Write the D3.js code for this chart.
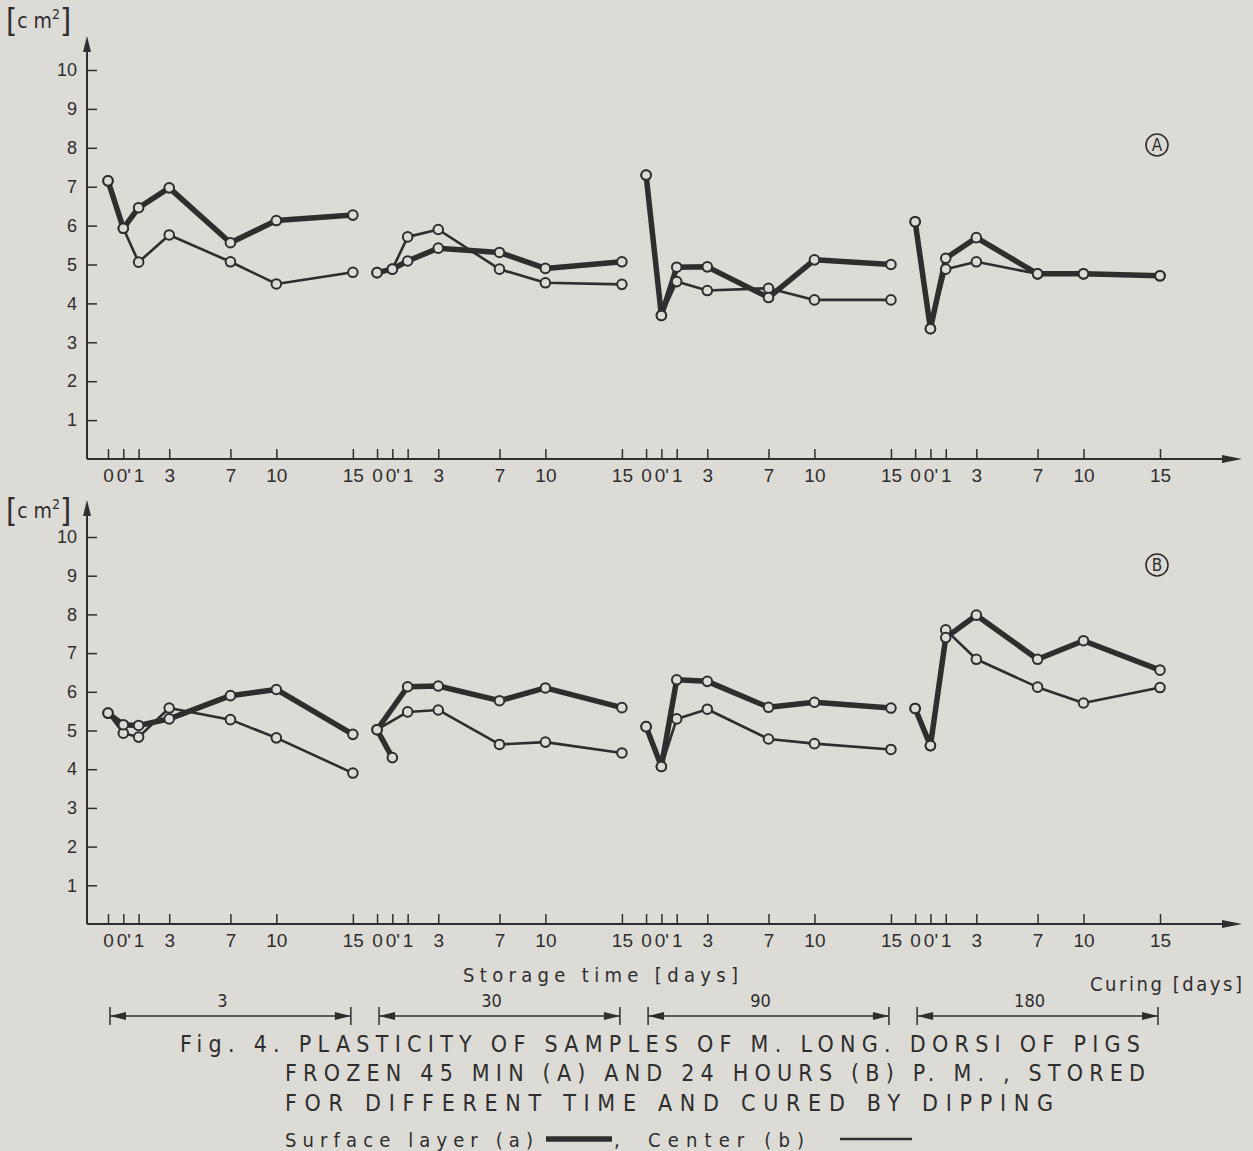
<!DOCTYPE html>
<html>
<head>
<meta charset="utf-8">
<script src="https://cdn.jsdelivr.net/npm/d3@7"></script>
<style>
  body { margin: 0; background: #dcdbd6; }
  svg { display: block; font-family: "DejaVu Sans Condensed", "Liberation Sans Narrow", "DejaVu Sans", sans-serif; font-stretch: condensed; }
</style>
</head>
<body>
<script>
// storage time groups (days frozen) and curing days inside each group
var storageTimes = ["3", "30", "90", "180"];
var dayLabels = ["0", "0'", "1", "3", "7", "10", "15"];
var curingDays = [-1, 0, 1, 3, 7, 10, 15];
var yTicks = [1, 2, 3, 4, 5, 6, 7, 8, 9, 10];

// (A) frozen 45 min p.m.
var surfaceA = [
  [7.15, 5.93, 6.46, 6.97, 5.56, 6.13, 6.27],
  [4.79, 4.88, 5.09, 5.42, 5.31, 4.90, 5.07],
  [7.30, 3.69, 4.93, 4.94, 4.15, 5.12, 5.00],
  [6.10, 3.35, 5.16, 5.69, 4.76, 4.76, 4.71]
];
var centerA = [
  [7.15, 5.93, 5.06, 5.76, 5.07, 4.50, 4.80],
  [4.79, 4.88, 5.71, 5.90, 4.88, 4.53, 4.49],
  [7.30, 3.69, 4.56, 4.33, 4.39, 4.09, 4.09],
  [6.10, 3.35, 4.88, 5.07, 4.76, 4.76, 4.71]
];
// (B) frozen 24 hours p.m.
var surfaceB = [
  [5.45, 5.15, 5.13, 5.30, 5.90, 6.06, 4.90],
  [5.02, 4.30, 6.13, 6.15, 5.77, 6.10, 5.59],
  [5.10, 4.07, 6.31, 6.27, 5.60, 5.73, 5.58],
  [5.57, 4.61, 7.40, 7.98, 6.84, 7.32, 6.56]
];
var centerB = [
  [5.45, 4.93, 4.83, 5.58, 5.28, 4.81, 3.90],
  [5.02, null, 5.48, 5.53, 4.64, 4.70, 4.42],
  [5.10, 4.07, 5.30, 5.55, 4.78, 4.66, 4.51],
  [5.57, 4.61, 7.60, 6.84, 6.12, 5.71, 6.11]
];
// order the points are joined in (B / 30 days: the 0' point hangs off the 0 point)
var normalOrder = [0, 1, 2, 3, 4, 5, 6];
var orderSurfaceB30 = [1, 0, 2, 3, 4, 5, 6];

var svgWidth = 1253;
var svgHeight = 1151;
var ink = "#2e2e2e";
var paper = "#dcdbd6";

var svg = d3.select("body").append("svg")
  .attr("width", svgWidth)
  .attr("height", svgHeight);

// one long linear x scale, each storage group shifted by a fixed span
var groupSpan = 17.58;
var xScale = d3.scaleLinear()
  .domain([-1, 3 * groupSpan + 15])
  .range([108, 1160]);
function xPos(g, i) { return xScale(g * groupSpan + curingDays[i]); }

var tickVals = [];
storageTimes.forEach(function(s, g) {
  curingDays.forEach(function(d) { tickVals.push(g * groupSpan + d); });
});

var axisX = 87;

var panels = [
  { name: "A", surface: surfaceA, center: centerA, y0: 459, y10: 70, top: 36, unitY: 20, letterY: 145 },
  { name: "B", surface: surfaceB, center: centerB, y0: 924, y10: 537, top: 500, unitY: 510, letterY: 565 }
];

panels.forEach(function(p) {
  var yScale = d3.scaleLinear().domain([0, 10]).range([p.y0, p.y10]);
  var g = svg.append("g");

  // y axis
  var yAxis = g.append("g")
    .attr("transform", `translate(${axisX},0)`)
    .call(d3.axisLeft(yScale).tickValues(yTicks).tickSize(-10).tickPadding(10));
  yAxis.select(".domain").remove();
  yAxis.selectAll("line").attr("stroke", ink).attr("stroke-width", 1.5);
  yAxis.selectAll("text").attr("fill", ink).attr("font-size", 18).attr("font-family", null);

  g.append("line")
    .attr("x1", axisX).attr("x2", axisX)
    .attr("y1", p.y0).attr("y2", p.top + 6)
    .attr("stroke", ink).attr("stroke-width", 2);
  g.append("path")
    .attr("d", `M${axisX - 4},${p.top + 16} L${axisX},${p.top} L${axisX + 4},${p.top + 16} Z`)
    .attr("fill", ink);

  // unit label
  var unit = g.append("text")
    .attr("x", 6).attr("y", p.unitY + 8)
    .attr("fill", ink).attr("font-size", 21);
  unit.append("tspan").attr("font-size", 32).attr("dy", 3).text("[");
  unit.append("tspan").attr("dy", -3).text("c m");
  unit.append("tspan").attr("font-size", 14).attr("dy", -9).text("2");
  unit.append("tspan").attr("font-size", 32).attr("dy", 12).text("]");

  // x axis
  var xAxis = g.append("g")
    .attr("transform", `translate(0,${p.y0})`)
    .call(d3.axisBottom(xScale).tickValues(tickVals).tickSize(-10).tickPadding(10)
      .tickFormat(function(d, i) { return dayLabels[i % dayLabels.length]; }));
  xAxis.select(".domain").remove();
  xAxis.selectAll("line").attr("stroke", ink).attr("stroke-width", 1.5);
  xAxis.selectAll("text").attr("fill", ink).attr("font-size", 19).attr("font-family", null);

  g.append("line")
    .attr("x1", axisX).attr("x2", 1232)
    .attr("y1", p.y0).attr("y2", p.y0)
    .attr("stroke", ink).attr("stroke-width", 2);
  g.append("path")
    .attr("d", `M1222,${p.y0 - 4} L1242,${p.y0} L1222,${p.y0 + 4} Z`)
    .attr("fill", ink);

  // circled panel letter
  g.append("circle").attr("cx", 1157).attr("cy", p.letterY).attr("r", 11)
    .attr("fill", "none").attr("stroke", ink).attr("stroke-width", 1.6);
  g.append("text").attr("x", 1157).attr("y", p.letterY + 6)
    .attr("text-anchor", "middle").attr("font-size", 17).attr("fill", ink)
    .text(p.name);

  var line = d3.line().x(d => d.x).y(d => d.y);

  function pts(values, gi, order) {
    return order.filter(i => values[i] !== null)
      .map(i => ({ x: xPos(gi, i), y: yScale(values[i]) }));
  }

  storageTimes.forEach(function(s, gi) {
    var sOrder = (p.name === "B" && gi === 1) ? orderSurfaceB30 : normalOrder;
    var sp = pts(p.surface[gi], gi, sOrder);
    var cp = pts(p.center[gi], gi, normalOrder);

    g.append("path").attr("d", line(cp))
      .attr("fill", "none").attr("stroke", ink).attr("stroke-width", 2.6)
      .attr("stroke-linejoin", "round").attr("stroke-linecap", "round");
    g.append("path").attr("d", line(sp))
      .attr("fill", "none").attr("stroke", ink).attr("stroke-width", 5.5)
      .attr("stroke-linejoin", "round").attr("stroke-linecap", "round");

    g.selectAll(null).data(cp.concat(sp)).enter().append("circle")
      .attr("cx", d => d.x).attr("cy", d => d.y).attr("r", 4.8)
      .attr("fill", paper).attr("stroke", ink).attr("stroke-width", 2);
  });
});

// storage / curing labels
svg.append("text").attr("x", 463).attr("y", 982)
  .attr("font-size", 20).attr("fill", ink)
  .attr("textLength", 275).attr("lengthAdjust", "spacing")
  .text("Storage  time  [days]");
svg.append("text").attr("x", 1090).attr("y", 991)
  .attr("font-size", 20).attr("fill", ink)
  .attr("textLength", 152).attr("lengthAdjust", "spacing")
  .text("Curing  [days]");

// storage time span arrows
storageTimes.forEach(function(s, gi) {
  var x1 = xPos(gi, 0) + 2;
  var x2 = xPos(gi, 6) - 2;
  var y = 1016;
  svg.append("line").attr("x1", x1).attr("x2", x2).attr("y1", y).attr("y2", y)
    .attr("stroke", ink).attr("stroke-width", 1.5);
  [x1, x2].forEach(function(x, k) {
    svg.append("line").attr("x1", x).attr("x2", x).attr("y1", y - 9).attr("y2", y + 9)
      .attr("stroke", ink).attr("stroke-width", 1.5);
    var dir = k === 0 ? 1 : -1;
    svg.append("path")
      .attr("d", `M${x},${y} L${x + dir * 16},${y - 4} L${x + dir * 16},${y + 4} Z`)
      .attr("fill", ink);
  });
  svg.append("text").attr("x", (x1 + x2) / 2 - 8).attr("y", 1007)
    .attr("text-anchor", "middle").attr("font-size", 18).attr("fill", ink)
    .text(s);
});

// caption
var caption = [
  { text: "Fig. 4.  PLASTICITY  OF  SAMPLES  OF  M. LONG. DORSI  OF  PIGS", x: 180, y: 1052, w: 960 },
  { text: "FROZEN  45 MIN  (A)  AND  24  HOURS  (B)  P. M. , STORED", x: 285, y: 1081, w: 860 },
  { text: "FOR  DIFFERENT  TIME  AND  CURED  BY  DIPPING", x: 285, y: 1111, w: 768 }
];
caption.forEach(function(c) {
  svg.append("text").attr("x", c.x).attr("y", c.y)
    .attr("font-size", 23).attr("fill", ink)
    .attr("textLength", c.w).attr("lengthAdjust", "spacing")
    .text(c.text);
});

// legend
svg.append("text").attr("x", 285).attr("y", 1147).attr("font-size", 20).attr("fill", ink)
  .attr("textLength", 248).attr("lengthAdjust", "spacing").text("Surface  layer  (a)");
svg.append("line").attr("x1", 546).attr("x2", 612).attr("y1", 1139).attr("y2", 1139)
  .attr("stroke", ink).attr("stroke-width", 5.5);
svg.append("text").attr("x", 614).attr("y", 1147).attr("font-size", 20).attr("fill", ink).text(",");
svg.append("text").attr("x", 648).attr("y", 1147).attr("font-size", 20).attr("fill", ink)
  .attr("textLength", 156).attr("lengthAdjust", "spacing").text("Center  (b)");
svg.append("line").attr("x1", 840).attr("x2", 912).attr("y1", 1139).attr("y2", 1139)
  .attr("stroke", ink).attr("stroke-width", 2.5);
</script>
</body>
</html>
